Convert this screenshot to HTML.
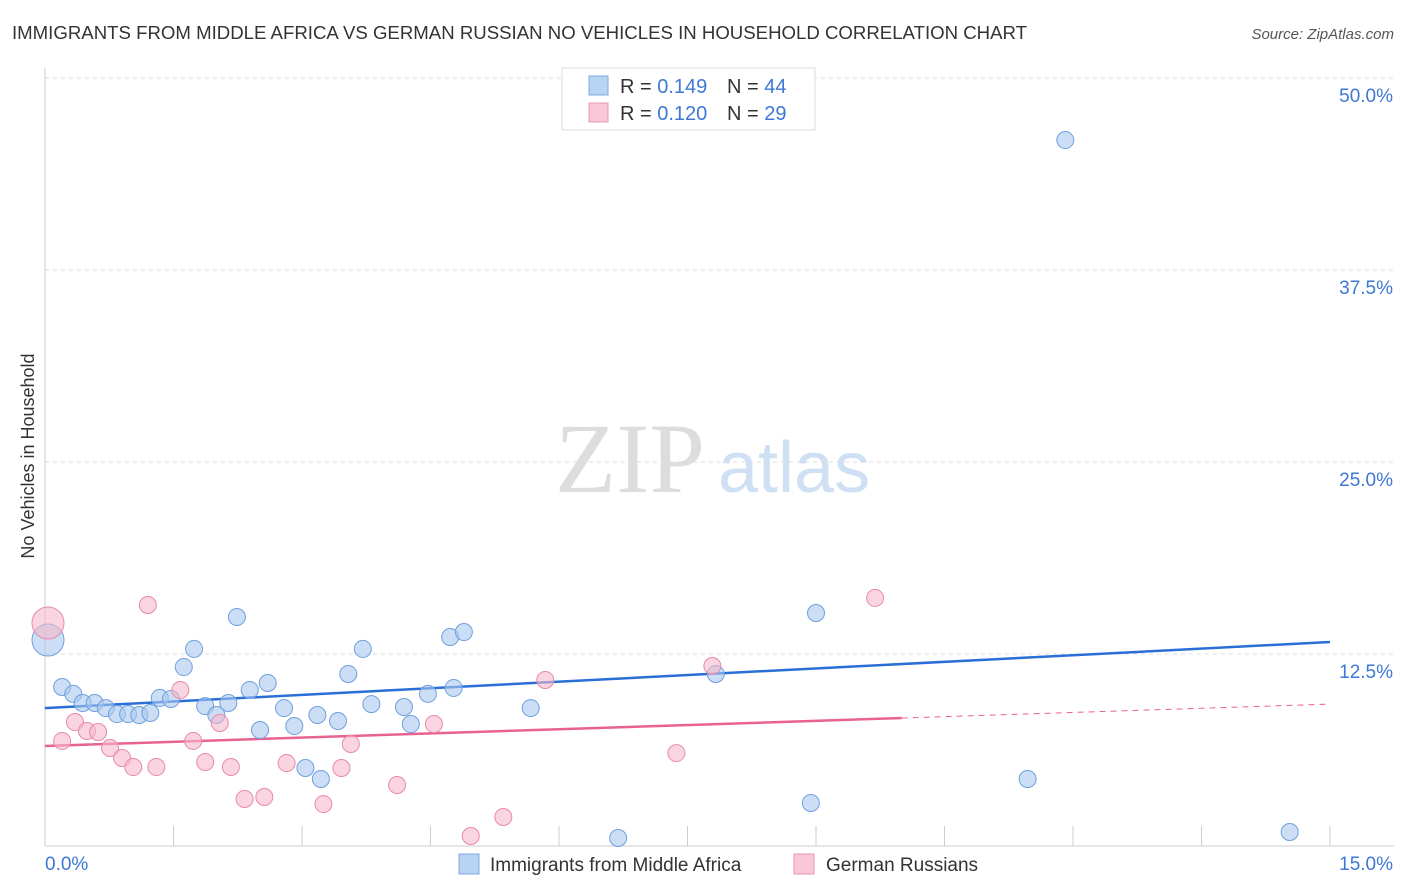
<!DOCTYPE html>
<html><head><meta charset="utf-8">
<style>
body{margin:0;background:#fff;font-family:"Liberation Sans",sans-serif;}
#wrap{position:relative;width:1406px;height:892px;overflow:hidden;}
</style></head>
<body>
<div id="wrap">
<svg id="svg" width="1406" height="892" xmlns="http://www.w3.org/2000/svg">
<text x="12" y="39" font-size="18" fill="#333" textLength="1015" lengthAdjust="spacingAndGlyphs">IMMIGRANTS FROM MIDDLE AFRICA VS GERMAN RUSSIAN NO VEHICLES IN HOUSEHOLD CORRELATION CHART</text>
<text x="1394" y="39" font-size="15" fill="#555" font-style="italic" text-anchor="end">Source: ZipAtlas.com</text>
<text x="555" y="492" font-size="100" fill="#ddd" font-family="Liberation Serif,serif">ZIP</text>
<text x="718" y="492" font-size="72" fill="#cfe0f5">atlas</text>
<text transform="translate(34,456) rotate(-90)" font-size="18" fill="#333" text-anchor="middle">No Vehicles in Household</text>
<g id="grid"></g><g id="axes"></g><g id="trend"></g><g id="pts"></g>
<g>
<rect x="562" y="68" width="253" height="62" fill="#fff" stroke="#ddd"/>
<rect x="589" y="76" width="19" height="19" fill="#b9d3f3" stroke="#7ea9e0"/>
<text x="620" y="93" font-size="20" fill="#333">R = <tspan fill="#3d78d6">0.149</tspan></text>
<text x="727" y="93" font-size="20" fill="#333">N = <tspan fill="#3d78d6">44</tspan></text>
<rect x="589" y="103" width="19" height="19" fill="#f9c6d6" stroke="#eb97b2"/>
<text x="620" y="120" font-size="20" fill="#333">R = <tspan fill="#3d78d6">0.120</tspan></text>
<text x="727" y="120" font-size="20" fill="#333">N = <tspan fill="#3d78d6">29</tspan></text>
</g>
<g>
<rect x="459" y="854" width="20" height="20" fill="#b9d3f3" stroke="#7ea9e0"/>
<text x="490" y="871" font-size="19" fill="#333">Immigrants from Middle Africa</text>
<rect x="794" y="854" width="20" height="20" fill="#f9c6d6" stroke="#eb97b2"/>
<text x="826" y="871" font-size="19" fill="#333">German Russians</text>
</g>
</svg>
</div>
<script>
const blueX=[0.035,0.20,0.33,0.44,0.58,0.71,0.84,0.97,1.10,1.23,1.34,1.47,1.62,1.74,1.87,2.00,2.14,2.24,2.39,2.51,2.60,2.79,2.91,3.04,3.18,3.22,3.42,3.54,3.71,3.81,4.19,4.27,4.47,4.73,4.77,4.89,5.67,6.69,7.83,8.94,9.00,11.47,11.91,14.53];
const blueY=[13.41,10.35,9.90,9.31,9.31,8.98,8.59,8.59,8.53,8.66,9.64,9.57,11.65,12.83,9.11,8.53,9.31,14.91,10.16,7.55,10.61,8.98,7.81,5.08,8.53,4.36,8.14,11.20,12.83,9.24,9.05,7.94,9.90,13.61,10.29,13.93,8.98,0.52,11.20,2.80,15.17,4.36,45.96,0.91];
const pinkX=[0.035,0.20,0.35,0.49,0.62,0.76,0.90,1.03,1.20,1.30,1.58,1.73,1.87,2.04,2.17,2.33,2.56,2.82,3.25,3.46,3.57,4.11,4.54,4.97,5.35,5.84,7.37,7.79,9.69];
const pinkY=[14.52,6.84,8.07,7.49,7.42,6.38,5.73,5.14,15.69,5.14,10.16,6.84,5.47,8.01,5.14,3.06,3.19,5.40,2.73,5.08,6.64,3.97,7.94,0.65,1.89,10.81,6.05,11.72,16.15];
const yTicks=[12.5,25.0,37.5,50.0];
const yTickLabels=["12.5%","25.0%","37.5%","50.0%"];
const blueTrend=[8.98,13.28];
const pinkTrend=[6.51,9.24];
const pinkSolidEnd=10.0;
const NS="http://www.w3.org/2000/svg";
const X=v=>45+v/15*1285;
const Y=v=>846-v/12.5*192;
function mk(tag,attrs,parent){const e=document.createElementNS(NS,tag);for(const k in attrs)e.setAttribute(k,attrs[k]);document.getElementById(parent).appendChild(e);return e;}
yTicks.forEach((t,i)=>{
 const l=mk('line',{x1:45,x2:1394,y1:Y(t),y2:Y(t),stroke:'#ddd','stroke-dasharray':'4,4'},'grid');
 
 
 const tx=mk('text',{x:1393,y:Y(t)+24,'font-size':19,fill:'#3d78d6','text-anchor':'end'},'grid');
 tx.textContent=yTickLabels[i];
 
 
});
const ax=mk('line',{x1:45,x2:45,y1:68,y2:846,stroke:'#ccc'},'axes');


const bx=mk('line',{x1:45,x2:1394,y1:846,y2:846,stroke:'#ccc'},'axes');


for(let i=0;i<=10;i++){
 const t=mk('line',{x1:X(i*1.5),x2:X(i*1.5),y1:826,y2:846,stroke:'#ccc'},'axes');
 
 
}
const xl=mk('text',{x:45,y:870,'font-size':19,fill:'#3d78d6'},'axes');xl.textContent='0.0%';


const xr=mk('text',{x:1393,y:870,'font-size':19,fill:'#3d78d6','text-anchor':'end'},'axes');xr.textContent='15.0%';


function pts(xs,ys,fill,stroke,name){
 xs.forEach((x,i)=>{
  const big=i===0;
  const c=mk('circle',{cx:X(x),cy:Y(ys[i]),r:big?16:8.5,fill:fill,'fill-opacity':0.6,stroke:stroke,'stroke-width':1},'pts');
  
  
 });
}
pts(blueX,blueY,'#a9c8f0','#6fa0dd','blue-point');
pts(pinkX,pinkY,'#f6b8cb','#e88aa8','pink-point');
const bt=mk('line',{x1:X(0),y1:Y(blueTrend[0]),x2:X(15),y2:Y(blueTrend[1]),stroke:'#2a6fd6','stroke-width':2.5},'trend');


const pe=pinkTrend[0]+(pinkTrend[1]-pinkTrend[0])*pinkSolidEnd/15;
const pt=mk('line',{x1:X(0),y1:Y(pinkTrend[0]),x2:X(pinkSolidEnd),y2:Y(pe),stroke:'#e8628f','stroke-width':2.5},'trend');


const pd=mk('line',{x1:X(pinkSolidEnd),y1:Y(pe),x2:X(15),y2:Y(pinkTrend[1]),stroke:'#e8628f','stroke-width':1,'stroke-dasharray':'6,5'},'trend');


</script>
</body></html>
